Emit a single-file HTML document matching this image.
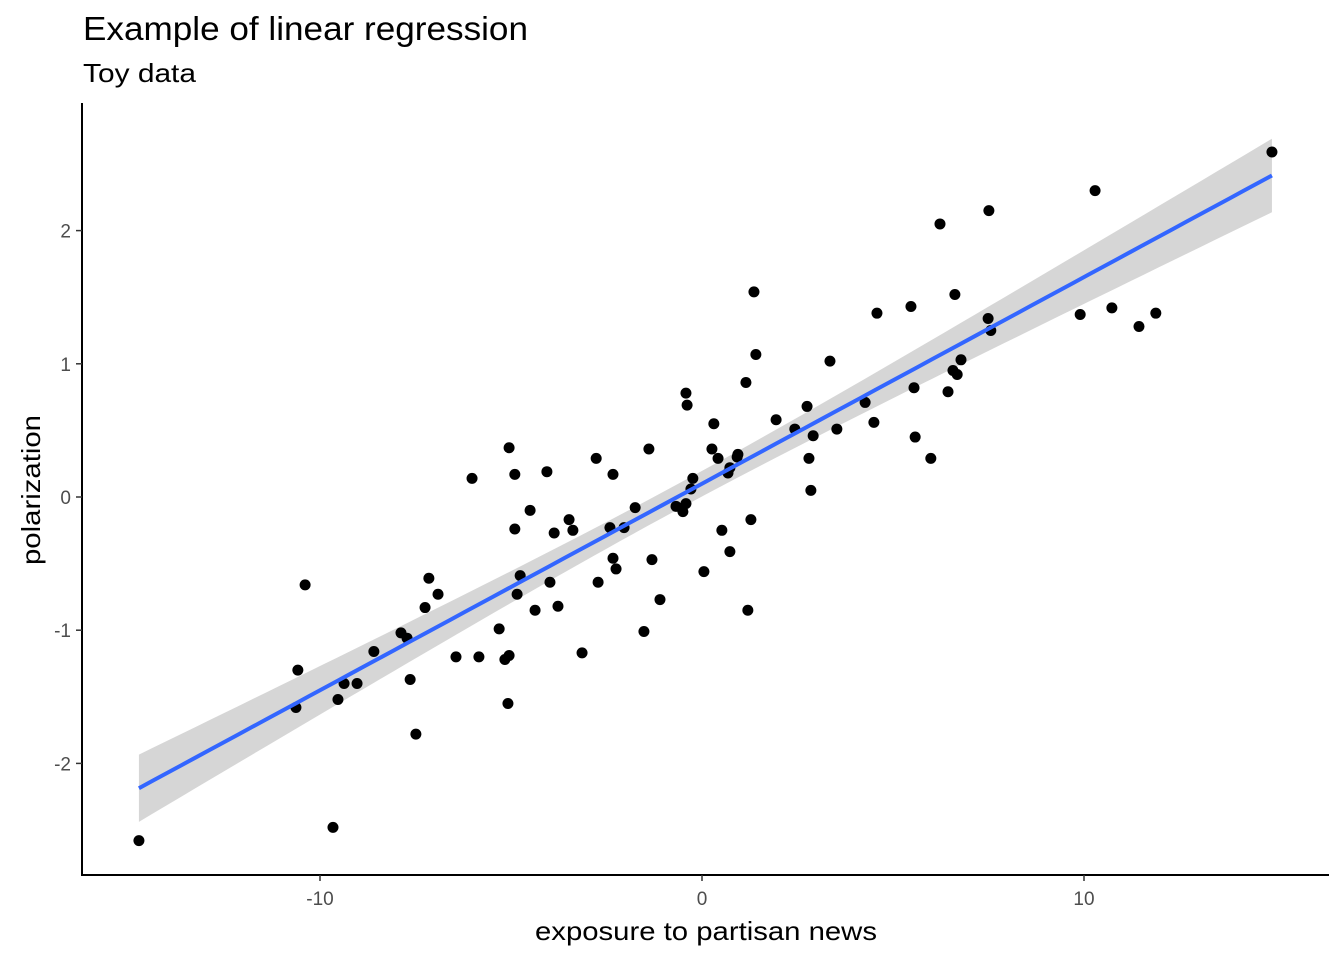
<!DOCTYPE html>
<html><head><meta charset="utf-8"><style>
body{margin:0;background:#fff;}
svg{display:block;font-family:"Liberation Sans",Arial,sans-serif;}
</style></head><body>
<svg id="chart" width="1344" height="960" viewBox="0 0 1344 960">
<text x="83" y="40" font-size="33" textLength="445" lengthAdjust="spacingAndGlyphs" fill="#000">Example of linear regression</text>
<text x="83" y="82" font-size="26" textLength="113" lengthAdjust="spacingAndGlyphs" fill="#000">Toy data</text>
<g id="plot"></g>
<text x="535" y="940" font-size="26" textLength="342" lengthAdjust="spacingAndGlyphs" fill="#000">exposure to partisan news</text>
<text transform="translate(40,565) rotate(-90)" font-size="26" textLength="150" lengthAdjust="spacingAndGlyphs" fill="#000">polarization</text>
</svg>
<script>
const xs = [-14.74,14.92,10.29,7.51,6.23,1.36,6.62,5.47,4.58,9.90,10.73,11.88,11.44,7.49,7.56,1.41,3.35,6.78,1.15,6.57,6.68,5.55,6.44,-0.42,-0.39,4.27,2.75,1.94,4.50,0.31,2.43,3.53,2.91,5.58,-1.39,-5.05,0.26,0.94,0.92,0.42,-2.77,5.99,2.80,-2.33,-4.90,-4.06,0.68,0.73,-6.02,-0.24,-0.29,2.85,-0.42,-0.68,-0.50,-1.75,-4.50,-3.48,1.28,-2.41,-2.04,-4.90,-3.38,-3.87,0.52,-2.33,-1.31,-2.25,0.73,0.05,-7.15,-4.76,-2.72,-3.98,-10.39,-6.91,-4.84,-1.10,-3.77,-7.25,-4.37,1.20,-1.52,-5.31,-7.88,-7.72,-8.59,-3.14,-6.44,-5.84,-5.05,-5.16,-10.58,-7.64,-9.37,-9.03,-9.53,-10.63,-5.08,-7.49,-9.66];
const ys = [-2.58,2.59,2.30,2.15,2.05,1.54,1.52,1.43,1.38,1.37,1.42,1.38,1.28,1.34,1.25,1.07,1.02,1.03,0.86,0.95,0.92,0.82,0.79,0.78,0.69,0.71,0.68,0.58,0.56,0.55,0.51,0.51,0.46,0.45,0.36,0.37,0.36,0.32,0.30,0.29,0.29,0.29,0.29,0.17,0.17,0.19,0.18,0.22,0.14,0.14,0.06,0.05,-0.05,-0.07,-0.11,-0.08,-0.10,-0.17,-0.17,-0.23,-0.23,-0.24,-0.25,-0.27,-0.25,-0.46,-0.47,-0.54,-0.41,-0.56,-0.61,-0.59,-0.64,-0.64,-0.66,-0.73,-0.73,-0.77,-0.82,-0.83,-0.85,-0.85,-1.01,-0.99,-1.02,-1.06,-1.16,-1.17,-1.20,-1.20,-1.19,-1.22,-1.30,-1.37,-1.40,-1.40,-1.52,-1.58,-1.55,-1.78,-2.48];
const xTicks = [-10, 0, 10];
const yTicks = [-2, -1, 0, 1, 2];

const NS = "http://www.w3.org/2000/svg";
const X = v => 702 + v * 38.2;
const Y = v => 497 - v * 133.2;
const g = document.getElementById('plot');
function mk(t, a){const e=document.createElementNS(NS,t);for(const k in a)e.setAttribute(k,a[k]);g.appendChild(e);return e;}

const n = xs.length;
const mx = xs.reduce((a,b)=>a+b,0)/n, my = ys.reduce((a,b)=>a+b,0)/n;
let sxx=0, sxy=0; for(let i=0;i<n;i++){sxx+=(xs[i]-mx)**2; sxy+=(xs[i]-mx)*(ys[i]-my);}
const b1 = sxy/sxx, b0 = my - b1*mx;
let sse=0; for(let i=0;i<n;i++){sse+=(ys[i]-b0-b1*xs[i])**2;}
const s = Math.sqrt(sse/(n-2)), tq = 1.984;
const xmin = Math.min(...xs), xmax = Math.max(...xs);
const up=[], lo=[], ln=[];
for(let k=0;k<=80;k++){
  const x = xmin + (xmax-xmin)*k/80, yh = b0+b1*x;
  const se = s*Math.sqrt(1/n + (x-mx)**2/sxx);
  up.push(X(x)+','+Y(yh+tq*se)); lo.unshift(X(x)+','+Y(yh-tq*se)); ln.push(X(x)+','+Y(yh));
}
let e = mk('polygon',{points:up.concat(lo).join(' '),fill:'#999999','fill-opacity':'0.4'});



for(let i=0;i<n;i++){
  const c = mk('circle',{cx:X(xs[i]),cy:Y(ys[i]),r:5.5,fill:'#000'});
  
  
}
e = mk('polyline',{points:ln.join(' '),fill:'none',stroke:'#3366FF','stroke-width':4});



e = mk('line',{x1:82,y1:103,x2:82,y2:875,stroke:'#000','stroke-width':2});


e = mk('line',{x1:81,y1:875,x2:1329,y2:875,stroke:'#000','stroke-width':2});


yTicks.forEach(v=>{
  const t = mk('line',{x1:76,y1:Y(v),x2:82,y2:Y(v),stroke:'#333','stroke-width':1.5});
  
  
  const l = mk('text',{x:71,y:Y(v)+7,'font-size':19,'text-anchor':'end',fill:'#4d4d4d'});
  l.textContent = v;
  
  
});
xTicks.forEach(v=>{
  const t = mk('line',{x1:X(v),y1:875,x2:X(v),y2:881,stroke:'#333','stroke-width':1.5});
  
  
  const l = mk('text',{x:X(v),y:905,'font-size':19,'text-anchor':'middle',fill:'#4d4d4d'});
  l.textContent = v;
  
  
});
</script>
</body></html>
